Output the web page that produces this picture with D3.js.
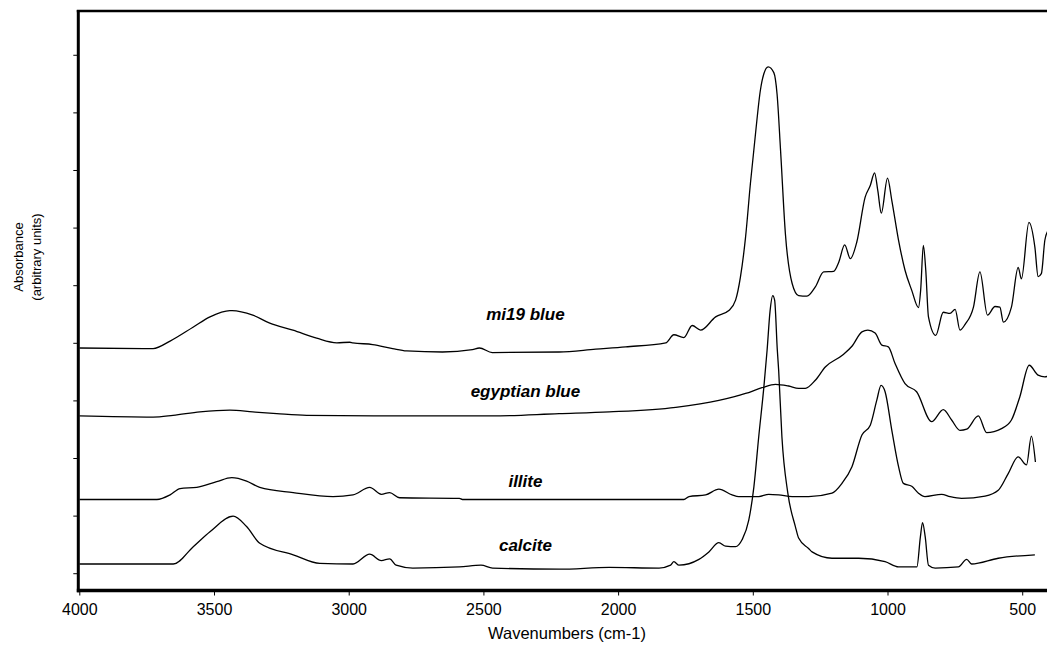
<!DOCTYPE html>
<html>
<head>
<meta charset="utf-8">
<script src="https://cdn.jsdelivr.net/npm/d3@7"></script>
<style>
  body { margin: 0; background: #fff; }
  svg { display: block; font-family: "Liberation Sans", Arial, sans-serif; }
</style>
</head>
<body>
<svg id="chart" width="1047" height="649"></svg>
<script>
// spectra: [wavenumber cm-1, absorbance (arbitrary, offset per trace)]
const mi19Blue = [
  [4000,3.91],[3726,3.90],[3663,4.03],[3578,4.27],[3515,4.45],[3441,4.56],[3433,4.56],[3356,4.48],
  [3293,4.34],[3207,4.22],[3119,4.08],[3044,4.00],[2996,4.01],[2985,4.00],[2911,3.97],[2837,3.90],
  [2785,3.86],[2652,3.84],[2541,3.88],[2515,3.91],[2467,3.83],[2219,3.84],[2083,3.89],[1972,3.93],
  [1823,4.00],[1793,4.14],[1756,4.09],[1725,4.30],[1694,4.22],[1638,4.45],[1589,4.56],[1564,4.74],
  [1546,5.14],[1527,5.83],[1509,6.76],[1490,7.63],[1472,8.38],[1459,8.67],[1443,8.79],[1422,8.69],
  [1410,8.32],[1397,7.34],[1379,5.89],[1354,5.03],[1330,4.82],[1299,4.81],[1268,4.97],[1237,5.23],
  [1200,5.24],[1181,5.40],[1159,5.70],[1138,5.46],[1114,5.75],[1083,6.53],[1064,6.73],[1048,6.95],
  [1036,6.64],[1023,6.25],[1000,6.86],[984,6.47],[959,5.78],[935,5.26],[910,4.91],[885,4.61],
  [877,4.91],[867,5.69],[858,5.26],[848,4.45],[821,4.13],[793,4.53],[768,4.51],[749,4.58],
  [731,4.22],[712,4.32],[681,4.62],[657,5.23],[629,4.48],[601,4.63],[583,4.62],[570,4.36],
  [540,4.62],[515,5.31],[503,5.11],[475,6.09],[453,5.66],[441,5.15],[429,5.20],[416,5.78],[404,5.95]
];
const egyptianBlue = [
  [4000,2.73],[3726,2.71],[3652,2.74],[3552,2.80],[3441,2.83],[3356,2.80],[3267,2.77],[3156,2.74],
  [2837,2.73],[2467,2.73],[2219,2.77],[2033,2.80],[1786,2.88],[1626,3.00],[1527,3.12],[1466,3.22],
  [1416,3.28],[1367,3.25],[1330,3.21],[1305,3.21],[1268,3.35],[1231,3.58],[1169,3.78],[1132,3.94],
  [1095,4.19],[1073,4.22],[1046,4.17],[1021,3.96],[997,3.93],[972,3.64],[935,3.29],[892,3.15],
  [836,2.63],[793,2.84],[762,2.66],[731,2.48],[706,2.50],[663,2.73],[632,2.44],[577,2.51],
  [540,2.66],[509,3.06],[474,3.61],[441,3.44],[416,3.41],[404,3.42]
];
const illite = [
  [4000,1.28],[3712,1.28],[3663,1.36],[3626,1.47],[3564,1.49],[3490,1.59],[3434,1.66],[3379,1.60],
  [3330,1.49],[3206,1.40],[3058,1.33],[2984,1.36],[2922,1.49],[2879,1.37],[2848,1.40],[2811,1.31],
  [2589,1.30],[2578,1.28],[1756,1.28],[1737,1.33],[1675,1.36],[1626,1.46],[1577,1.36],[1552,1.33],
  [1478,1.33],[1441,1.37],[1404,1.36],[1354,1.33],[1293,1.33],[1206,1.39],[1169,1.56],[1132,1.85],
  [1095,2.40],[1064,2.57],[1040,3.00],[1024,3.26],[1009,3.15],[984,2.48],[959,1.85],[941,1.56],
  [910,1.51],[885,1.39],[861,1.33],[799,1.37],[768,1.33],[725,1.30],[638,1.34],[589,1.44],
  [552,1.73],[515,2.02],[484,1.88],[466,2.38],[451,1.93]
];
const calcite = [
  [4000,0.16],[3651,0.16],[3577,0.46],[3515,0.72],[3429,0.99],[3379,0.81],[3330,0.52],[3206,0.32],
  [3107,0.17],[2984,0.16],[2922,0.33],[2879,0.22],[2848,0.25],[2824,0.14],[2762,0.09],[2589,0.11],
  [2509,0.14],[2466,0.09],[2219,0.07],[2033,0.10],[1848,0.09],[1805,0.14],[1793,0.20],[1774,0.14],
  [1700,0.24],[1663,0.37],[1626,0.53],[1601,0.47],[1564,0.46],[1540,0.58],[1515,0.92],[1496,1.50],
  [1478,2.37],[1459,3.23],[1447,3.87],[1436,4.55],[1426,4.82],[1419,4.74],[1409,3.87],[1404,3.52],
  [1392,2.37],[1370,1.39],[1342,0.81],[1330,0.61],[1293,0.43],[1280,0.37],[1206,0.26],[1107,0.26],
  [1009,0.20],[959,0.11],[891,0.11],[878,0.63],[870,0.88],[860,0.63],[848,0.14],[823,0.09],
  [737,0.11],[706,0.24],[688,0.16],[589,0.26],[453,0.32]
];

const seriesNames = ["mi19 blue", "egyptian blue", "illite", "calcite"];
const labelAbs = [4.39, 3.06, 1.50, 0.39];
const labelWn = 2344;
const xTicks = [4000, 3500, 3000, 2500, 2000, 1500, 1000, 500];
const yTicks = [0, 1, 2, 3, 4, 5, 6, 7, 8, 9];

const svg = d3.select("#chart");
const plotLeft = 79.3, plotTop = 11, plotBottom = 590.5, plotRight = 1047;

const x = d3.scaleLinear().domain([4000, 408]).range([plotLeft, plotRight]);
const y = d3.scaleLinear().domain([-0.3, 9.76]).range([plotBottom, plotTop]);

svg.append("clipPath").attr("id", "plot")
  .append("rect").attr("x", plotLeft).attr("y", plotTop)
  .attr("width", plotRight - plotLeft).attr("height", plotBottom - plotTop);

const line = d3.line()
  .x(d => x(d[0]))
  .y(d => y(d[1]))
  .curve(d3.curveMonotoneX);

svg.append("g").attr("clip-path", "url(#plot)")
  .selectAll("path")
  .data([mi19Blue, egyptianBlue, illite, calcite])
  .enter().append("path")
  .attr("d", line)
  .attr("fill", "none")
  .attr("stroke", "#000")
  .attr("stroke-width", 1.3)
  .attr("stroke-linejoin", "round");

// series labels
svg.append("g").selectAll("text")
  .data(seriesNames)
  .enter().append("text")
  .attr("x", x(labelWn))
  .attr("y", (d, i) => y(labelAbs[i]))
  .attr("text-anchor", "middle")
  .attr("font-size", 17)
  .attr("font-weight", "bold")
  .attr("font-style", "italic")
  .text(d => d);

// x axis
const xAxis = svg.append("g")
  .attr("transform", "translate(0," + plotBottom + ")")
  .call(d3.axisBottom(x).tickValues(xTicks).tickSize(5).tickPadding(8).tickFormat(d3.format("d")));
xAxis.select(".domain").remove();
xAxis.selectAll("line").attr("stroke", "#000");
xAxis.selectAll("text").attr("font-size", 16).attr("font-family", "Liberation Sans, Arial, sans-serif").attr("fill", "#000");

// y axis (ticks only, no labels)
const yAxis = svg.append("g")
  .attr("transform", "translate(" + (plotLeft - 1) + ",0)")
  .call(d3.axisLeft(y).tickValues(yTicks).tickSize(5).tickFormat(""));
yAxis.select(".domain").remove();
yAxis.selectAll("line").attr("stroke", "#000");

// frame
svg.append("line").attr("x1", plotLeft - 1).attr("x2", plotLeft - 1).attr("y1", plotTop - 1).attr("y2", plotBottom + 1.7)
  .attr("stroke", "#000").attr("stroke-width", 3);
svg.append("line").attr("x1", plotLeft - 2.5).attr("x2", plotRight).attr("y1", plotBottom).attr("y2", plotBottom)
  .attr("stroke", "#000").attr("stroke-width", 3.5);
svg.append("line").attr("x1", plotLeft - 2.5).attr("x2", plotRight).attr("y1", plotTop).attr("y2", plotTop)
  .attr("stroke", "#000").attr("stroke-width", 2.5);

// axis titles
svg.append("text")
  .attr("x", 567).attr("y", 639)
  .attr("text-anchor", "middle")
  .attr("font-size", 16.5)
  .text("Wavenumbers (cm-1)");

const yTitle = svg.append("text")
  .attr("transform", "translate(0,257) rotate(-90)")
  .attr("text-anchor", "middle")
  .attr("font-size", 13);
yTitle.append("tspan").attr("x", 0).attr("y", 22.5).text("Absorbance");
yTitle.append("tspan").attr("x", 0).attr("y", 40.5).text("(arbitrary units)");
</script>
</body>
</html>
